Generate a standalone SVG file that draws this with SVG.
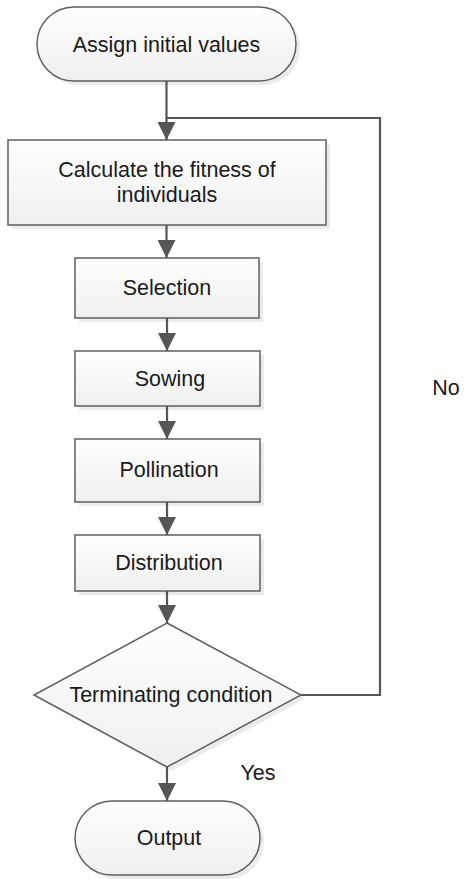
<svg xmlns="http://www.w3.org/2000/svg" width="467" height="879" viewBox="0 0 467 879">
<style>
.n{stroke:#5f5f5f;stroke-width:1.5;fill:url(#g)}
.sh{fill:#e6e6e6;opacity:0.8}
.t{font-family:"Liberation Sans",Arial,sans-serif;font-size:21.5px;fill:#1a1a1a;text-anchor:middle}
.c{stroke:#555;stroke-width:2.2;fill:none}
</style>
<defs>
<linearGradient id="g" x1="0" y1="0" x2="0" y2="1">
<stop offset="0" stop-color="#ffffff"/>
<stop offset="1" stop-color="#efefef"/>
</linearGradient>
<marker id="a" markerWidth="18" markerHeight="18" viewBox="0 0 18 18" refX="18" refY="9" orient="auto" markerUnits="userSpaceOnUse">
<path d="M0,0 L18,9 L0,18 Z" fill="#555"/>
</marker>
</defs>
<g id="start">
<rect class="sh" x="41" y="11" width="259" height="74" rx="37"/>
<rect class="n" x="37" y="7" width="259" height="74" rx="37"/>
<text class="t" x="166.5" y="51.5">Assign initial values</text>
</g>
<g id="fitness">
<rect class="sh" x="12" y="144" width="318" height="85"/>
<rect class="n" x="8" y="140" width="318" height="85"/>
<text class="t" x="167" y="177">Calculate the fitness of</text>
<text class="t" x="167" y="202">individuals</text>
</g>
<g id="selection">
<rect class="sh" x="79" y="262" width="184" height="60"/>
<rect class="n" x="75" y="258" width="184" height="60"/>
<text class="t" x="167" y="295">Selection</text>
</g>
<g id="sowing">
<rect class="sh" x="79" y="355" width="185" height="55"/>
<rect class="n" x="75" y="351" width="185" height="55"/>
<text class="t" x="170" y="386">Sowing</text>
</g>
<g id="pollination">
<rect class="sh" x="79" y="443" width="185" height="63"/>
<rect class="n" x="75" y="439" width="185" height="63"/>
<text class="t" x="169" y="477">Pollination</text>
</g>
<g id="distribution">
<rect class="sh" x="79" y="539" width="185" height="56"/>
<rect class="n" x="75" y="535" width="185" height="56"/>
<text class="t" x="169" y="570">Distribution</text>
</g>
<g id="decision">
<polygon class="sh" points="171,627 305,699 171,771 38,699"/>
<polygon class="n" points="167,623 301,695 167,767 34,695"/>
<text class="t" x="171" y="702">Terminating condition</text>
</g>
<g id="output">
<rect class="sh" x="79" y="805" width="185" height="74" rx="37"/>
<rect class="n" x="75" y="801" width="185" height="74" rx="37"/>
<text class="t" x="169" y="845">Output</text>
</g>
<g id="connectors">
<line class="c" x1="166.5" y1="81" x2="166.5" y2="140" marker-end="url(#a)"/>
<line class="c" x1="166.5" y1="225" x2="166.5" y2="258" marker-end="url(#a)"/>
<line class="c" x1="167" y1="318" x2="167" y2="351" marker-end="url(#a)"/>
<line class="c" x1="167" y1="406" x2="167" y2="439" marker-end="url(#a)"/>
<line class="c" x1="167" y1="502" x2="167" y2="535" marker-end="url(#a)"/>
<line class="c" x1="167" y1="591" x2="167" y2="623" marker-end="url(#a)"/>
<line class="c" x1="167" y1="767" x2="167" y2="801" marker-end="url(#a)"/>
<polyline class="c" points="301,695 380,695 380,118 166.5,118"/>
<text class="t" x="258" y="780">Yes</text>
<text class="t" x="446" y="395">No</text>
</g>
</svg>
